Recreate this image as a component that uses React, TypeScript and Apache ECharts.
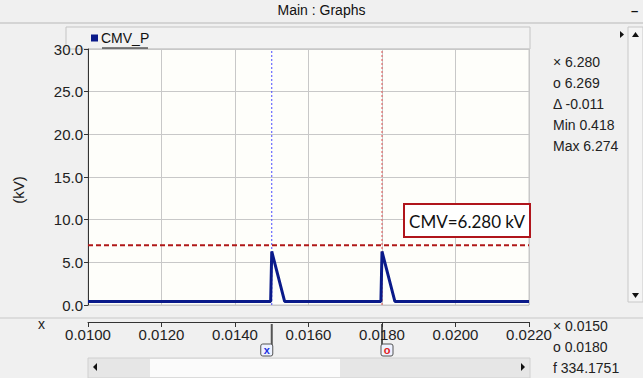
import React, { useEffect, useRef } from "react";
import * as echarts from "echarts";

const seriesName = "CMV_P";
const timeValues = [0.01, 0.01497, 0.015, 0.01535, 0.01797, 0.018, 0.01835, 0.022];
const cmvValues = [0.42, 0.42, 6.27, 0.42, 0.42, 6.27, 0.42, 0.42];
const cursorX = 0.015;
const cursorO = 0.018;
const thresholdKV = 7.0;
const xRange = [0.01, 0.022];
const yRange = [0, 30];
const readoutY = ["× 6.280", "o 6.269", "Δ -0.011", "Min 0.418", "Max 6.274"];
const readoutX = ["× 0.0150", "o 0.0180", "f 334.1751"];
const annotation = "CMV=6.280 kV";

const FONT = "'Liberation Sans', Arial, sans-serif";

export default function App() {
  const ref = useRef<HTMLDivElement>(null);
  useEffect(() => {
    if (!ref.current) return;
    const chart = echarts.init(ref.current, undefined, { renderer: "svg" });
    const data = timeValues.map((t, i) => [t, cmvValues[i]]);
    const textEls: any[] = [];
    readoutY.forEach((s, i) => {
      textEls.push({
        type: "text", left: 553, top: 55 + i * 21,
        style: { text: s, font: `14px ${FONT}`, fill: "#222" },
      });
    });
    readoutX.forEach((s, i) => {
      textEls.push({
        type: "text", left: 553, top: 319 + i * 21,
        style: { text: s, font: `14px ${FONT}`, fill: "#222" },
      });
    });
    const baseGraphics: any[] = [
      { type: "rect", shape: { x: 0, y: 0, width: 643, height: 378 }, style: { fill: "#f0f0f0" }, z: -10 },
      { type: "line", shape: { x1: 0, y1: 23, x2: 643, y2: 23 }, style: { stroke: "#b8b8b8", lineWidth: 1 }, z: -5 },
      { type: "text", left: "center", top: 3, style: { text: "Main : Graphs", font: `14px ${FONT}`, fill: "#111" } },
      { type: "text", left: 631, top: 4, style: { text: "–", font: `bold 13px ${FONT}`, fill: "#111" } },
      { type: "rect", shape: { x: 66, y: 27, width: 464, height: 22 }, style: { fill: "#f2f2f2", stroke: "#c4c4c4", lineWidth: 1 }, z: -5 },
      { type: "line", shape: { x1: 102, y1: 48, x2: 148, y2: 48 }, style: { stroke: "#111", lineWidth: 1 } },
      { type: "rect", shape: { x: 628, y: 27, width: 15, height: 275 }, style: { fill: "#f4f4f4", stroke: "#c8c8c8", lineWidth: 1 }, z: -5 },
      { type: "polygon", shape: { points: [[632, 37], [639, 37], [635.5, 32]] }, style: { fill: "#111" } },
      { type: "polygon", shape: { points: [[632, 293], [639, 293], [635.5, 298]] }, style: { fill: "#111" } },
      { type: "polygon", shape: { points: [[620, 31], [620, 38], [624, 34.5]] }, style: { fill: "#111" } },
      { type: "line", shape: { x1: 0, y1: 318, x2: 643, y2: 318 }, style: { stroke: "#c8c8c8", lineWidth: 1 }, z: -5 },
      { type: "rect", shape: { x: 88, y: 358, width: 442, height: 20 }, style: { fill: "#e6e6e6", stroke: "#d0d0d0", lineWidth: 1 }, z: -5 },
      { type: "rect", shape: { x: 150, y: 359, width: 190, height: 18 }, style: { fill: "#fbfbfb" }, z: -4 },
      { type: "polygon", shape: { points: [[97, 363], [97, 371], [93, 367]] }, style: { fill: "#111" } },
      { type: "polygon", shape: { points: [[521, 363], [521, 371], [525, 367]] }, style: { fill: "#111" } },
      { type: "text", left: 38, top: 317, style: { text: "x", font: `14px ${FONT}`, fill: "#222" } },
      { type: "text", x: 18, y: 190, rotation: Math.PI / 2, style: { text: "(kV)", font: `15px ${FONT}`, fill: "#222", align: "center", verticalAlign: "middle" } },
      {
        type: "group", left: 403, top: 203,
        children: [
          { type: "rect", shape: { x: 0, y: 0, width: 126, height: 33 }, style: { fill: "#ffffff", stroke: "#b0151c", lineWidth: 2 } },
          { type: "text", x: 63, y: 17, style: { text: annotation, font: `17px Lato, 'Open Sans', sans-serif`, fill: "#111", align: "center", verticalAlign: "middle" } },
        ],
      },
      ...textEls,
    ];

    const guideBase = { type: "line", showSymbol: false, symbol: "none", silent: true, legendHoverLink: false };

    chart.setOption({
      animation: false,
      textStyle: { fontFamily: FONT },
      legend: {
        data: [seriesName], left: 91, top: 31, icon: "rect", itemWidth: 7, itemHeight: 7,
        itemGap: 4, padding: 0, selectedMode: false,
        textStyle: { fontSize: 14, color: "#111", padding: [0, 0, 0, -2] },
      },
      grid: {
        left: 88, top: 49, width: 441, height: 256, show: true,
        backgroundColor: "#fefefa", borderColor: "#c8c8c8", borderWidth: 1, containLabel: false,
      },
      xAxis: {
        type: "value", min: xRange[0], max: xRange[1], interval: 0.002, offset: 17,
        axisLine: { show: true, onZero: false, lineStyle: { color: "#333", width: 1 } },
        axisTick: { show: true, length: 5, lineStyle: { color: "#333" } },
        axisLabel: { fontSize: 15, color: "#222", margin: 5, formatter: (v: number) => v.toFixed(4) },
        splitLine: { show: true, lineStyle: { color: "#c8c8c8", width: 1 } },
      },
      yAxis: {
        type: "value", min: yRange[0], max: yRange[1], interval: 5,
        axisLine: { show: true, lineStyle: { color: "#333", width: 1 } },
        axisTick: { show: true, length: 4, lineStyle: { color: "#333" } },
        axisLabel: { fontSize: 15, color: "#222", margin: 5, formatter: (v: number) => v.toFixed(1) },
        splitLine: { show: true, lineStyle: { color: "#c8c8c8", width: 1 } },
      },
      graphic: baseGraphics,
      series: [
        {
          ...guideBase, name: "cursorX",
          data: [[cursorX, yRange[0]], [cursorX, yRange[1]]],
          lineStyle: { color: "#4a4aff", type: [2, 2], width: 1 }, z: 2,
        },
        {
          ...guideBase, name: "cursorO",
          data: [[cursorO, yRange[0]], [cursorO, yRange[1]]],
          lineStyle: { color: "#e05050", type: [2, 2], width: 1 }, z: 2,
        },
        {
          ...guideBase, name: "threshold",
          data: [[xRange[0], thresholdKV], [xRange[1], thresholdKV]],
          lineStyle: { color: "#b01818", type: [5, 3], width: 2 }, z: 2,
        },
        {
          name: seriesName, type: "line", data, showSymbol: false, symbol: "none",
          lineStyle: { color: "#0a1a8a", width: 3 }, itemStyle: { color: "#0a1a8a" },
          z: 3,
        },
      ],
    });

    const px = chart.convertToPixel({ xAxisIndex: 0 }, cursorX) as number;
    const po = chart.convertToPixel({ xAxisIndex: 0 }, cursorO) as number;
    const flag = (x: number, label: string, color: string, side: number) => ({
      type: "group",
      children: [
        { type: "line", shape: { x1: x, y1: 324, x2: x, y2: 345 }, style: { stroke: "#555", lineWidth: 2 } },
        { type: "rect", shape: { x: side < 0 ? x - 11 : x - 1, y: 344, width: 12, height: 12, r: 2 }, style: { fill: "#eef2ff", stroke: "#555", lineWidth: 1 } },
        { type: "text", x: side < 0 ? x - 5 : x + 5, y: 350, style: { text: label, font: `bold 11px ${FONT}`, fill: color, align: "center", verticalAlign: "middle" } },
      ],
    });
    chart.setOption({ graphic: [...baseGraphics, flag(px, "x", "#2030e0", -1), flag(po, "o", "#e02020", 1)] }, { replaceMerge: ["graphic"] });

    return () => chart.dispose();
  }, []);
  return <div ref={ref} style={{ width: 643, height: 378, position: "absolute", left: 0, top: 0 }} />;
}
